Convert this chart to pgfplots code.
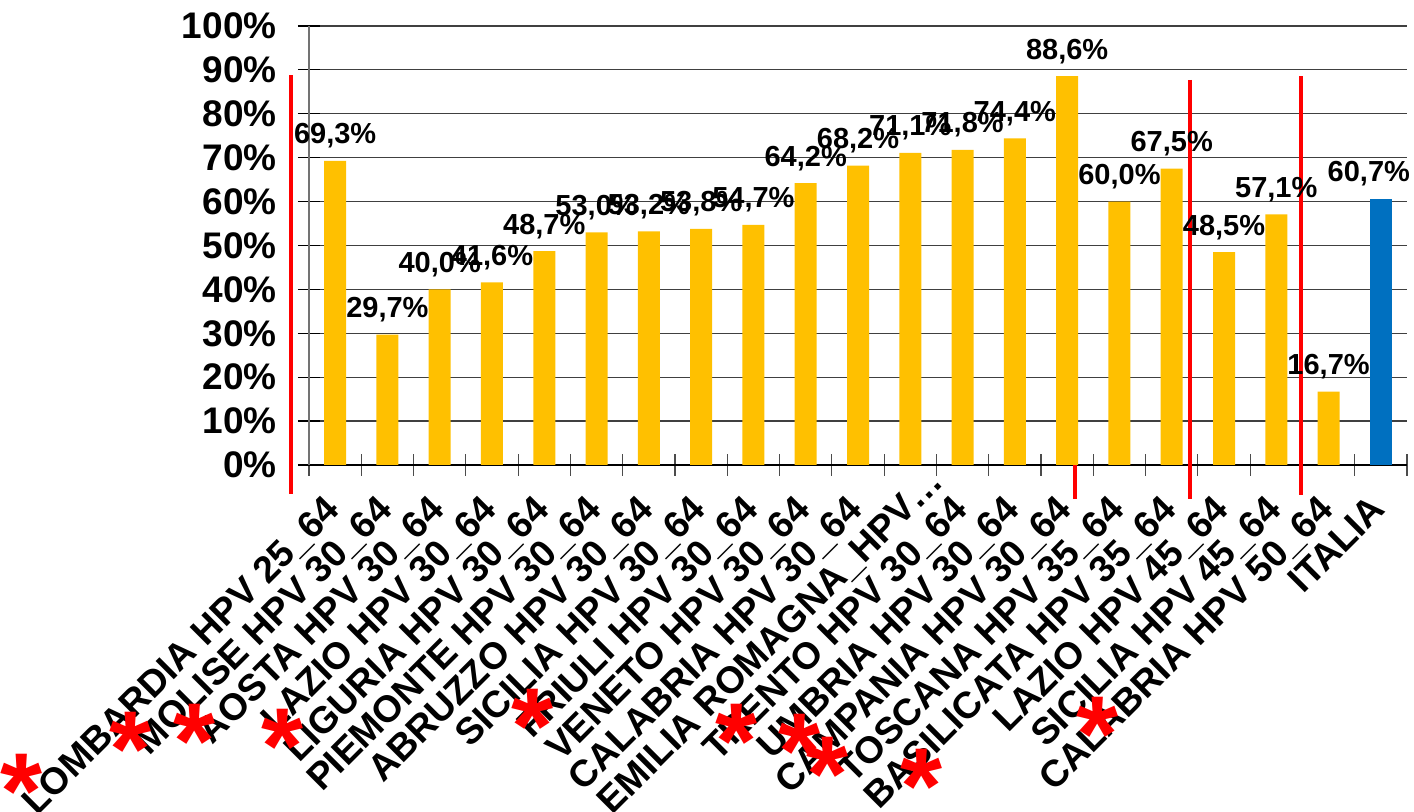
\documentclass[border=0pt]{standalone}
\usepackage{fontspec}
\setmainfont{Liberation Sans}
\usepackage{pgfplots}
\pgfplotsset{compat=1.18}
\definecolor{bary}{HTML}{FFC000}
\definecolor{barb}{HTML}{0070C0}
\pgfplotstableread{
x y
1 69.3
2 29.7
3 40.0
4 41.6
5 48.7
6 53.0
7 53.2
8 53.8
9 54.7
10 64.2
11 68.2
12 71.1
13 71.8
14 74.4
15 88.6
16 60.0
17 67.5
18 48.5
19 57.1
20 16.7
}\regioni
\tikzset{ast/.style={anchor=north, inner sep=0pt, text=red, font=\bfseries\fontsize{54}{54}\selectfont}}
\begin{document}
\begin{tikzpicture}
\begin{axis}[
 scale only axis,
 width=549pt, height=219.5pt,
 xmin=0.5, xmax=21.5, ymin=0, ymax=100,
 clip=false,
 axis x line=bottom, axis y line=left,
 axis line style={-},
 x axis line style={black, line width=0.6pt},
 y axis line style={black!55, line width=0.6pt},
 ytick={0,10,...,100},
 ymajorgrids,
 major grid style={black!75, line width=0.6pt},
 xtick={1,...,21},
 xticklabels={LOMBARDIA HPV 25\_64, MOLISE HPV 30\_64, AOSTA HPV 30\_64, LAZIO HPV 30\_64, LIGURIA HPV 30\_64, PIEMONTE HPV 30\_64, ABRUZZO HPV 30\_64, SICILIA HPV 30\_64, FRIULI HPV 30\_64, VENETO HPV 30\_64, CALABRIA HPV 30\_64, EMILIA ROMAGNA\_HPV…\kern-20pt, TRENTO HPV 30\_64, UMBRIA HPV 30\_64, CAMPANIA HPV 30\_64, TOSCANA HPV 35\_64, BASILICATA HPV 35\_64, LAZIO HPV 45\_64, SICILIA HPV 45\_64, CALABRIA HPV 50\_64, ITALIA},
 minor xtick={0.5,1.5,...,21.5},
 tick align=center,
 major tick length=11pt, minor tick length=11pt,
 major x tick style={draw=none},
 minor x tick style={black!70, line width=0.6pt},
 major y tick style={black, line width=0.6pt},
 /pgf/number format/assume math mode=true,
 yticklabel={\pgfmathprintnumber{\tick}\%},
 yticklabel style={inner sep=0pt, xshift=-10.5pt, font=\bfseries\fontsize{18.5}{18.5}\selectfont},
 xticklabel style={xshift=-6pt, yshift=-8.5pt, rotate=45, anchor=north east, inner sep=0pt, font=\bfseries\fontsize{18.7}{18.7}\selectfont},
 every node near coord/.append style={font=\bfseries\fontsize{14.5}{14.5}\selectfont, inner sep=0pt, anchor=south, yshift=6pt},
]
% red separator lines
\addplot[red, line width=2pt, forget plot] coordinates {(0.156,88.8) (0.156,-6.6)};
\addplot[red, line width=2pt, forget plot] coordinates {(15.15,0) (15.15,-7.7)};
\addplot[red, line width=2pt, forget plot] coordinates {(17.35,87.7) (17.35,-7.7)};
\addplot[red, line width=2pt, forget plot] coordinates {(19.47,88.6) (19.47,-6.8)};
% bars
\addplot[ybar, bar width=11pt, bar shift=0pt, fill=bary, draw=none,
  nodes near coords={\pgfmathprintnumber[fixed, fixed zerofill, precision=1, use comma]{\pgfplotspointmeta}\%}]
  table[x=x, y=y] {\regioni};
\addplot[ybar, bar width=11pt, bar shift=0pt, fill=barb, draw=none,
  nodes near coords={\pgfmathprintnumber[fixed, fixed zerofill, precision=1, use comma]{\pgfplotspointmeta}\%},
  every node near coord/.append style={xshift=-6pt}]
  coordinates {(21,60.7)};
% asterisks
\node[ast] at (axis cs:-4.99,-65.8) {*};
\node[ast] at (axis cs:-2.92,-56.2) {*};
\node[ast] at (axis cs:-1.68,-54.4) {*};
\node[ast] at (axis cs:-0.016,-55.5) {*};
\node[ast] at (axis cs:4.78,-50.9) {*};
\node[ast] at (axis cs:8.68,-54.4) {*};
\node[ast] at (axis cs:9.89,-56.6) {*};
\node[ast] at (axis cs:10.42,-61.9) {*};
\node[ast] at (axis cs:12.22,-64.6) {*};
\node[ast] at (axis cs:15.59,-52.7) {*};
\coordinate (O) at (rel axis cs:0,0);
\end{axis}
\pgfresetboundingbox
\path[use as bounding box] ([shift={(-154.5pt,-173.5pt)}]O) rectangle ([shift={(552.5pt,232.5pt)}]O);
\end{tikzpicture}
\end{document}
